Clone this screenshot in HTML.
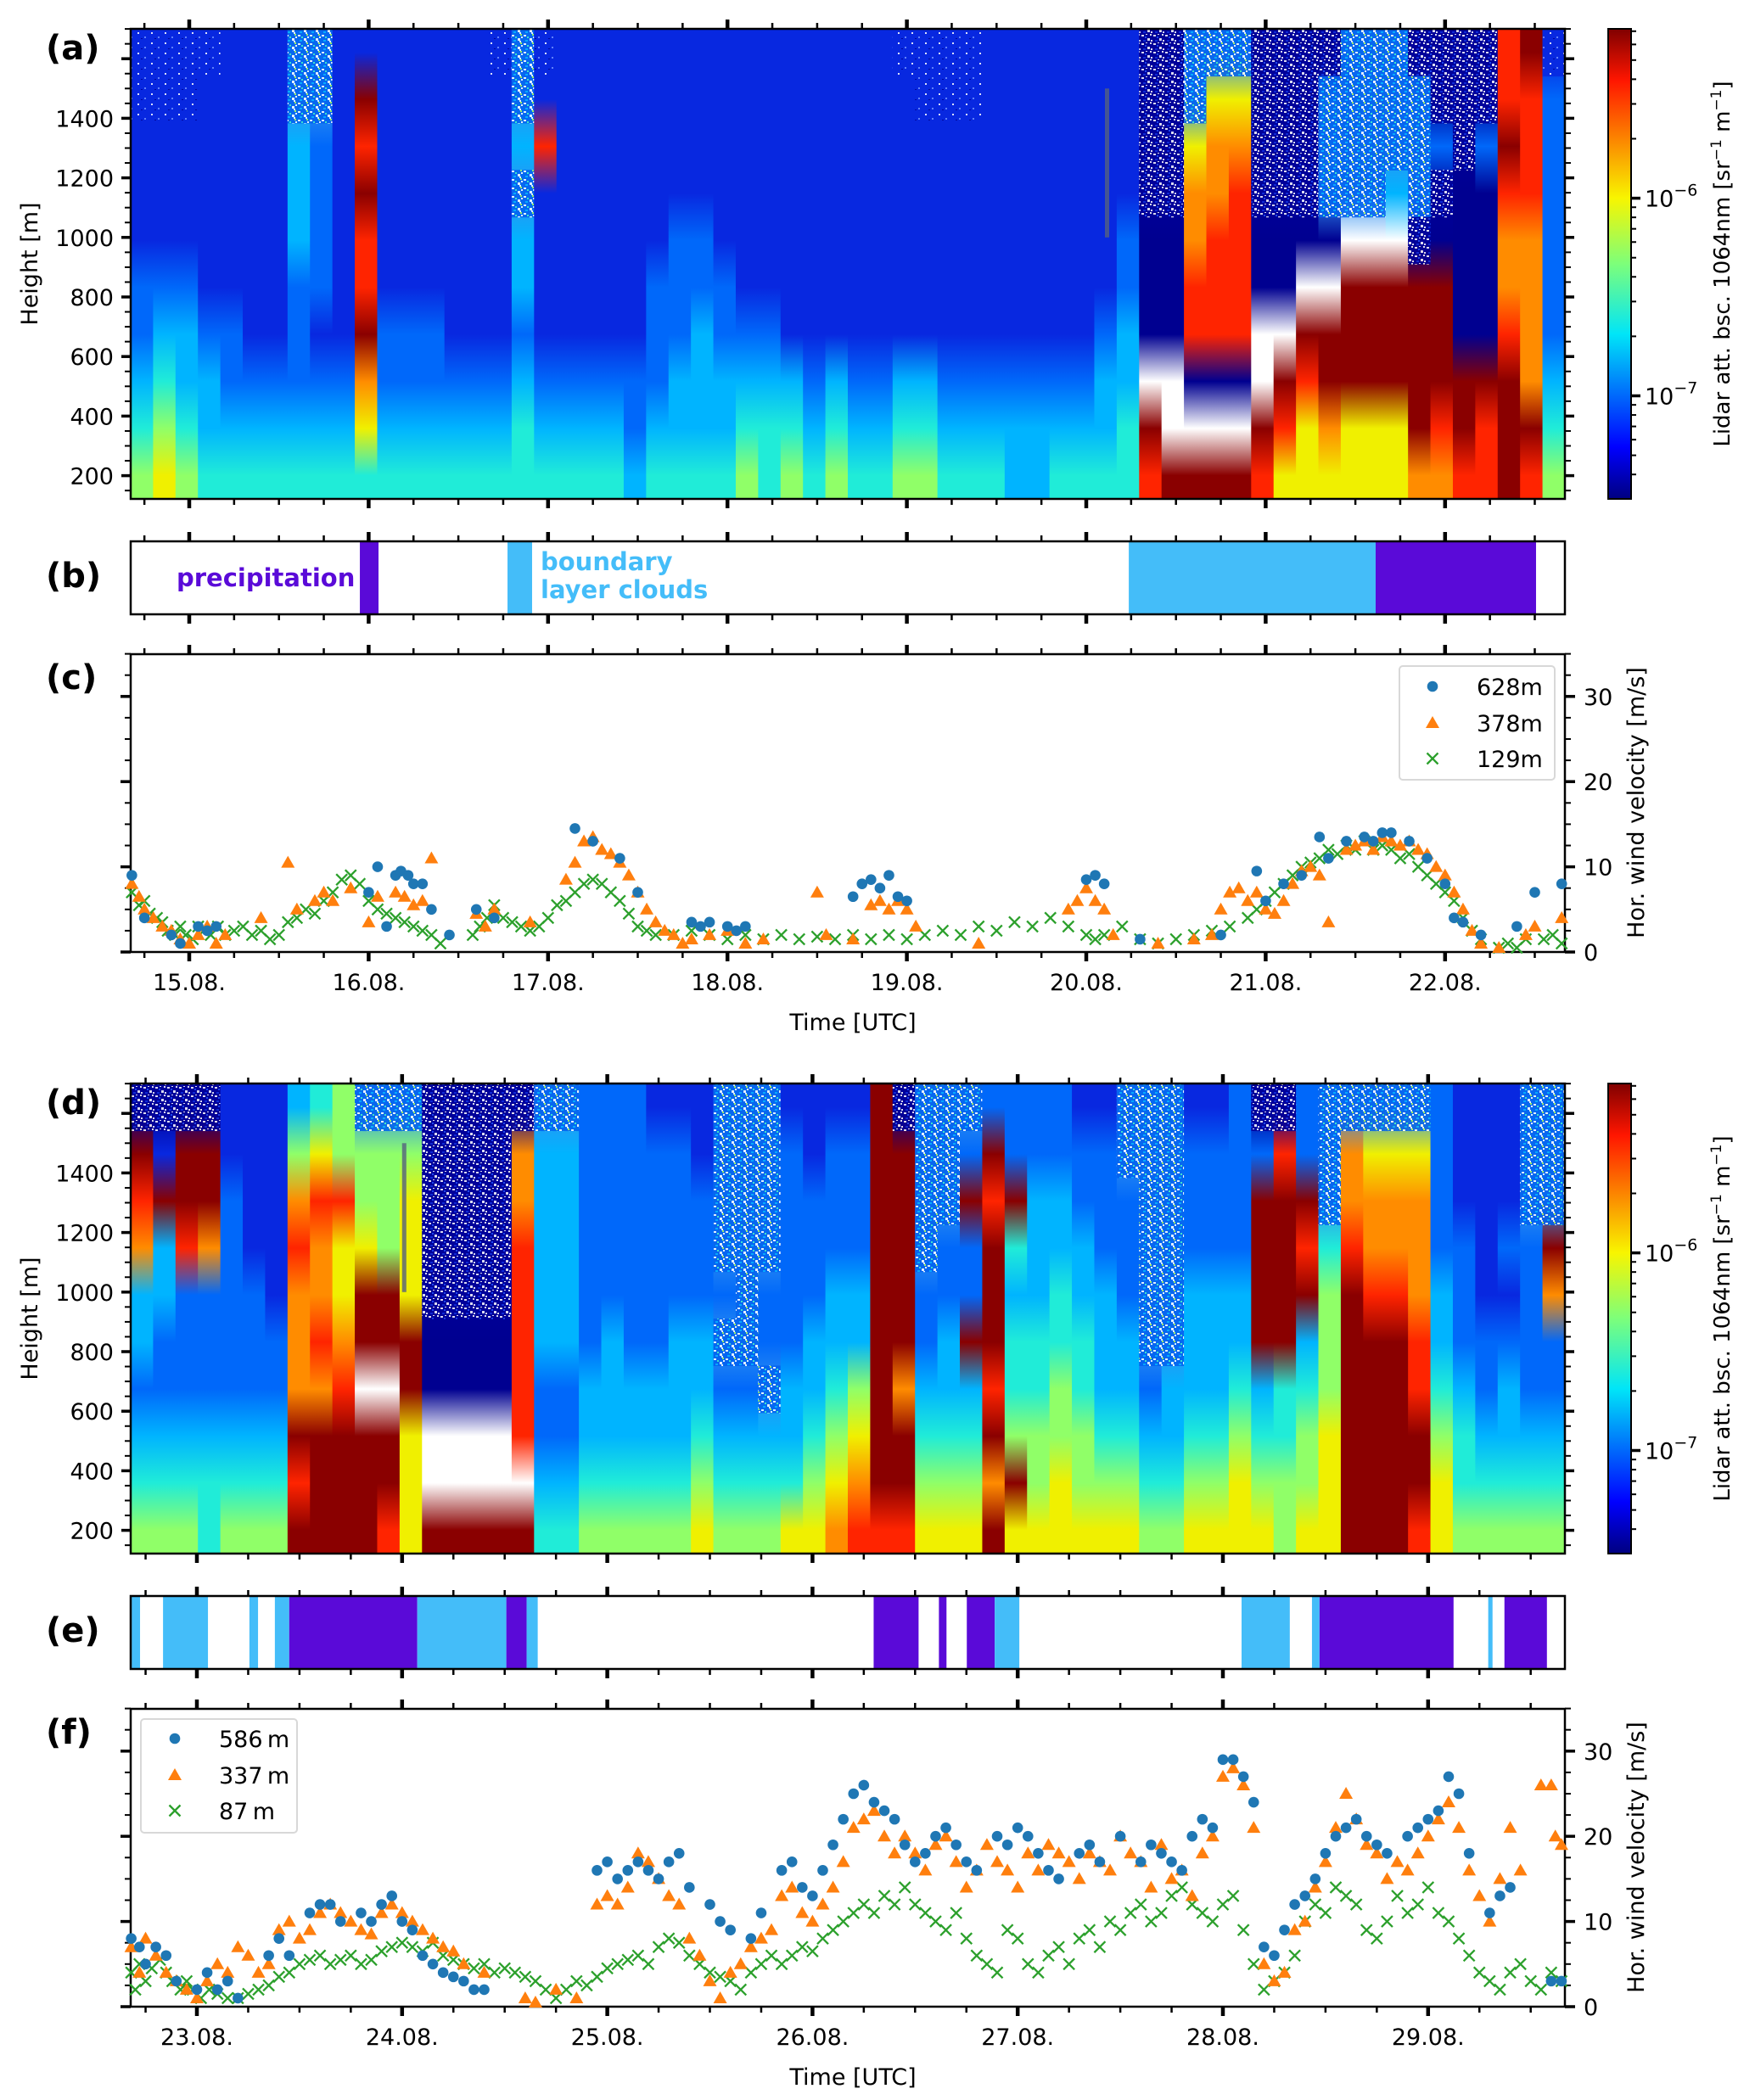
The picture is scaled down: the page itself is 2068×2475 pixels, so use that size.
<!DOCTYPE html>
<html><head><meta charset="utf-8">
<style>
html,body{margin:0;padding:0;background:#fff;}
svg{display:block;font-family:"DejaVu Sans","Liberation Sans",sans-serif;}
</style></head>
<body>
<svg id="fig" xmlns="http://www.w3.org/2000/svg" width="2068" height="2475" viewBox="0 0 2068 2475">
<defs id="defs">
<pattern id="pn" width="14" height="10" patternUnits="userSpaceOnUse">
<rect width="14" height="10" fill="#00009a"/>
<rect x="1" y="1" width="3" height="2" fill="#fff"/><rect x="8" y="5" width="3" height="3" fill="#fff"/>
<rect x="5" y="3" width="2" height="2" fill="#2050ff"/><rect x="11" y="0" width="2" height="2" fill="#fff"/>
<rect x="3" y="7" width="3" height="2" fill="#1030e0"/><rect x="12" y="7" width="2" height="2" fill="#fff"/>
<rect x="6" y="0" width="2" height="1" fill="#fff"/>
</pattern>
<pattern id="pm" width="14" height="10" patternUnits="userSpaceOnUse">
<rect width="14" height="10" fill="#0060f0"/>
<rect x="1" y="1" width="3" height="2" fill="#fff"/><rect x="8" y="5" width="3" height="3" fill="#fff"/>
<rect x="5" y="3" width="2" height="2" fill="#40f0c0"/><rect x="11" y="0" width="2" height="2" fill="#b0ff50"/>
<rect x="3" y="7" width="3" height="2" fill="#00b0ff"/><rect x="10" y="8" width="2" height="2" fill="#fff"/>
<rect x="12" y="3" width="2" height="2" fill="#fff"/>
</pattern>
<pattern id="pb" width="16" height="12" patternUnits="userSpaceOnUse">
<rect width="16" height="12" fill="#0828e0"/>
<rect x="2" y="2" width="2" height="2" fill="#fff"/><rect x="10" y="7" width="2" height="2" fill="#7090ff"/>
<rect x="6" y="9" width="2" height="1" fill="#000090"/>
</pattern>
<linearGradient id="jet" x1="0" y1="1" x2="0" y2="0">
<stop offset="0" stop-color="#000080"/><stop offset="0.11" stop-color="#0000ff"/>
<stop offset="0.35" stop-color="#00e5f8"/><stop offset="0.5" stop-color="#7dff7a"/>
<stop offset="0.64" stop-color="#f8f500"/><stop offset="0.89" stop-color="#ff1600"/>
<stop offset="1" stop-color="#800000"/>
</linearGradient>
</defs>
<g id="root"></g>
</svg>
<script>
// ---------- DATA ----------
const heatColsA = ["bb22233456","bb22234567","bb22234456","b222223445","2222223345","2222222345","2222222345","mm44433345","mm33332345","2222222345",
"2R9R99R875","2222223345","2222223345","2222223345","2222222345","2222222345","b222222345","mm4m443455","b292222345","2222222345",
"2222222345","2222222345","2222222334","2222233345","2222333445","2222334445","2222233445","2222223456","2222223455","2222222456",
"2222222345","2222222456","2222222345","2222222345","b222222456","bb22222456","bb22222345","bb22222345","2222222345","2222222344",
"2222222344","2222222345","2222222345","2222223445","2222334455","nnnn000WR9","nnnn000WWR","mm788990WR","m7889990WR","m7899990WR",
"nnnn00WWR9","nnnn00WR97","nnnn0WR977","nmmm0WRR87","mmmmWRRR77","mmmmWRRR77","mmm4WRRR77","nmmmnRRRR8","nn3n0RRR98","nnn0000RR9",
"nn30000R99","99R9889RRR","R9998888R9","b333333456"];
const heatColsD = ["nR98443456","n2R4433456","nRR9333456","nRR8333455","2233333456","2222333456","2222233456","4689888R9R","5798898RRR","6697789RRR",
"m667RRWRRR","m666RRWRR9","m6777RR777","nnnnn00WWR","nnnnn00WWR","nnnnn00WWR","nnnnn00WWR","n8899999WR","m444443345","m444443345",
"3333334456","3333344456","3333334456","2333334456","2333344456","2233344567","mmmm3m3456","mmmmmm3456","mmmm33m456","2333334457",
"2233344567","2333445678","2333446789","RRRRRRRRR9","nRRRRR8RR9","mmmm334567","mmm3344567","m3R33R4567","3R9RRR9R8R","33R54556R7",
"3344455667","3344556677","2334455667","2333444567","mm33344567","mmmmmm3456","mmmmmm4456","2333444567","2333444567","3333445677",
"n3RRRR4567","n9RRRR5566","33R9R45667","mmm5666777","m889RRRRRR","m7889RRRRR","m7889RRRRR","m788899RR9","3333445677","2223334556",
"2222233456","2223234456","mmm3333456","mmmR833456"];
const catB = [[0.951,1.055,"p"],[1.774,1.911,"c"],[5.237,6.613,"c"],[6.613,7.507,"p"]];
const catE = [[-0.318,-0.277,"c"],[-0.165,0.054,"c"],[0.256,0.298,"c"],[0.380,0.450,"c"],[0.450,1.074,"p"],[1.074,1.508,"c"],[1.508,1.607,"p"],[1.607,1.661,"c"],
[3.298,3.517,"p"],[3.616,3.653,"p"],[3.752,3.888,"p"],[3.888,4.008,"c"],[5.091,5.326,"c"],[5.434,5.471,"c"],[5.471,6.124,"p"],[6.293,6.314,"c"],[6.372,6.579,"p"]];
const daysUpper = ["15.08.","16.08.","17.08.","18.08.","19.08.","20.08.","21.08.","22.08."];
const daysLower = ["23.08.","24.08.","25.08.","26.08.","27.08.","28.08.","29.08."];
const heightTicks = [200,400,600,800,1000,1200,1400];
const windTicks = [0,10,20,30];
const cbTicks = [-6,-7];
const windC628 = [[-0.32,9],[-0.25,4],[-0.1,2],[-0.05,1],[0.05,3],[0.1,2.5],[0.15,3],[1.0,7],[1.05,10],[1.1,3],[1.15,9],[1.18,9.5],[1.22,9],[1.25,8],[1.3,8],[1.35,5],[1.45,2],[1.6,5],[1.7,4],[2.15,14.5],[2.25,13],[2.4,11],[2.5,7],[2.8,3.5],[2.85,3],[2.9,3.5],[3.0,3],[3.05,2.5],[3.1,3],[3.7,6.5],[3.75,8],[3.8,8.5],[3.85,7.5],[3.9,9],[3.95,6.5],[4.0,6],[5.0,8.5],[5.05,9],[5.1,8],[5.3,1.5],[5.75,2],[5.95,9.5],[6.0,6],[6.1,8],[6.2,9],[6.3,13.5],[6.35,11],[6.45,13],[6.55,13.5],[6.6,13],[6.65,14],[6.7,14],[6.8,13],[6.9,11],[7.0,8],[7.05,4],[7.1,3.5],[7.2,2],[7.4,3],[7.5,7],[7.65,8]];
const windC378 = [[-0.32,8],[-0.28,6.5],[-0.25,5],[-0.2,4],[-0.15,3],[-0.1,2.5],[-0.05,1.5],[0.0,1],[0.05,2],[0.1,3],[0.15,1],[0.2,2],[0.4,4],[0.55,10.5],[0.6,5],[0.7,6],[0.75,7],[0.8,6],[0.9,7.5],[1.0,3.5],[1.05,6.5],[1.15,7],[1.2,6.5],[1.25,5.5],[1.3,6],[1.35,11],[1.6,4.5],[1.65,3],[1.7,5],[1.9,3.5],[2.1,8.5],[2.15,10.5],[2.2,13],[2.25,13.5],[2.3,12],[2.35,11.5],[2.4,10.5],[2.45,9],[2.5,7],[2.55,5],[2.6,3.5],[2.65,2.5],[2.7,2],[2.75,1],[2.8,1.5],[2.9,2],[3.0,2.5],[3.1,1],[3.2,1.5],[3.5,7],[3.55,2],[3.7,1.5],[3.8,5.5],[3.85,6],[3.9,5],[3.95,6],[4.0,5],[4.05,3],[4.4,1],[4.9,5],[4.95,6],[5.0,7.5],[5.05,6],[5.1,5],[5.15,2],[5.4,1],[5.6,1.5],[5.7,2],[5.75,5],[5.8,7],[5.85,7.5],[5.9,6],[5.95,7],[6.0,5],[6.05,4.5],[6.1,6],[6.15,8],[6.2,9.5],[6.25,10],[6.3,9],[6.35,3.5],[6.45,12],[6.5,12.5],[6.55,13],[6.6,12],[6.65,13.5],[6.7,13],[6.75,12.5],[6.8,13],[6.85,12],[6.9,11.5],[6.95,10],[7.0,9],[7.05,7],[7.1,5],[7.15,2.5],[7.2,1],[7.3,0.5],[7.45,2],[7.5,3],[7.65,4]];
const windC129 = [[-0.32,7],[-0.28,5.5],[-0.25,6],[-0.22,4.5],[-0.18,4],[-0.15,3.5],[-0.12,2.5],[-0.08,2],[-0.05,3],[-0.02,2],[0.02,1.5],[0.05,3],[0.08,2.5],[0.12,2],[0.16,3],[0.2,2],[0.25,2.5],[0.3,3],[0.35,2],[0.4,2.5],[0.45,1.5],[0.5,2],[0.55,3.5],[0.6,4],[0.65,5],[0.7,4.5],[0.75,6],[0.8,7],[0.85,8.5],[0.9,9],[0.95,8],[1.0,6],[1.05,5],[1.1,4.5],[1.15,4],[1.2,3.5],[1.25,3],[1.3,2.5],[1.35,2],[1.4,1],[1.58,2],[1.62,3],[1.66,4],[1.7,5.5],[1.75,4],[1.8,3.5],[1.85,3],[1.9,2.5],[1.95,3],[2.0,4],[2.05,5.5],[2.1,6],[2.15,7],[2.2,8],[2.25,8.5],[2.3,8],[2.35,7],[2.4,6],[2.45,4.5],[2.5,3],[2.55,2.5],[2.6,2],[2.7,2],[2.8,2.5],[2.9,2],[3.0,1.5],[3.1,2],[3.2,1.5],[3.3,2],[3.4,1.5],[3.5,1.8],[3.6,1.5],[3.7,2],[3.8,1.5],[3.9,2],[4.0,1.5],[4.1,2],[4.2,2.5],[4.3,2],[4.4,3],[4.5,2.5],[4.6,3.5],[4.7,3],[4.8,4],[4.9,3],[5.0,2],[5.05,1.5],[5.1,2],[5.2,3],[5.3,1.5],[5.4,1],[5.5,1.5],[5.6,2],[5.7,2.5],[5.8,3],[5.9,4],[5.95,5],[6.0,6],[6.05,7],[6.1,8],[6.15,9],[6.2,10],[6.25,10.5],[6.3,11],[6.35,12],[6.4,11.5],[6.45,12.5],[6.5,12],[6.55,13],[6.6,12],[6.65,12.5],[6.7,12],[6.75,11],[6.8,11.5],[6.85,10],[6.9,9],[6.95,8],[7.0,7],[7.05,6],[7.1,4],[7.15,2.5],[7.2,1.5],[7.3,0.5],[7.35,1],[7.4,0.5],[7.45,1.5],[7.55,1.5],[7.6,2],[7.65,1]];
const windF586 = [[-0.32,8],[-0.28,7],[-0.25,5],[-0.2,7],[-0.15,6],[-0.1,3],[0.0,2],[0.05,4],[0.1,2],[0.15,3],[0.2,1],[0.35,6],[0.4,8],[0.45,6],[0.55,11],[0.6,12],[0.65,12],[0.7,10],[0.8,11],[0.85,10],[0.9,12],[0.95,13],[1.0,10],[1.05,9],[1.1,6],[1.15,5],[1.2,4],[1.25,3.5],[1.3,3],[1.35,2],[1.4,2],[1.95,16],[2.0,17],[2.05,15],[2.1,16],[2.15,17],[2.2,16],[2.25,15],[2.3,17],[2.35,18],[2.4,14],[2.5,12],[2.55,10],[2.6,9],[2.7,8],[2.75,11],[2.85,16],[2.9,17],[2.95,14],[3.0,13],[3.05,16],[3.1,19],[3.15,22],[3.2,25],[3.25,26],[3.3,24],[3.35,23],[3.4,22],[3.45,19],[3.5,17],[3.55,18],[3.6,20],[3.65,21],[3.7,19],[3.75,17],[3.8,16],[3.9,20],[3.95,19],[4.0,21],[4.05,20],[4.1,18],[4.15,16],[4.2,15],[4.3,18],[4.35,19],[4.4,17],[4.5,20],[4.6,17],[4.65,19],[4.7,18],[4.75,17],[4.8,16],[4.85,20],[4.9,22],[4.95,21],[5.0,29],[5.05,29],[5.1,27],[5.15,24],[5.2,7],[5.25,6],[5.3,9],[5.35,12],[5.4,13],[5.45,15],[5.5,18],[5.55,20],[5.6,21],[5.65,22],[5.7,20],[5.75,19],[5.8,18],[5.9,20],[5.95,21],[6.0,22],[6.05,23],[6.1,27],[6.15,25],[6.2,18],[6.3,11],[6.35,13],[6.4,14],[6.6,3],[6.65,3]];
const windF337 = [[-0.32,7],[-0.28,4],[-0.25,8],[-0.2,6],[-0.15,4],[-0.1,3],[-0.05,2],[0.0,1],[0.05,3],[0.1,5],[0.15,4],[0.2,7],[0.25,6],[0.3,4],[0.35,5],[0.4,9],[0.45,10],[0.5,8],[0.55,9],[0.6,11],[0.65,12],[0.7,11],[0.75,10],[0.8,9],[0.85,8.5],[0.9,11],[0.95,12],[1.0,11],[1.05,10],[1.1,9],[1.15,8],[1.2,7],[1.25,6.5],[1.3,5],[1.4,4],[1.6,1],[1.65,0.5],[1.75,2],[1.85,1],[1.95,12],[2.0,13],[2.05,12],[2.1,14],[2.15,18],[2.2,17],[2.25,15],[2.3,13],[2.35,12],[2.4,8],[2.45,6],[2.5,3],[2.55,1],[2.6,4],[2.65,5],[2.7,7],[2.75,8],[2.8,9],[2.85,13],[2.9,14],[2.95,11],[3.0,10],[3.05,12],[3.1,14],[3.15,17],[3.2,21],[3.25,22],[3.3,23],[3.35,20],[3.4,18],[3.45,20],[3.5,18],[3.55,16],[3.6,19],[3.65,20],[3.7,17],[3.75,14],[3.8,16],[3.85,19],[3.9,17],[3.95,16],[4.0,14],[4.05,18],[4.1,16],[4.15,19],[4.2,18],[4.25,17],[4.3,15],[4.35,18],[4.4,17],[4.45,16],[4.5,20],[4.55,18],[4.6,17],[4.65,14],[4.7,19],[4.75,15],[4.8,16],[4.85,13],[4.9,18],[4.95,20],[5.0,27],[5.05,28],[5.1,26],[5.15,21],[5.2,5],[5.25,3],[5.3,4],[5.35,9],[5.4,10],[5.45,14],[5.5,17],[5.55,21],[5.6,25],[5.65,22],[5.7,19],[5.75,18],[5.8,15],[5.85,17],[5.9,16],[5.95,18],[6.0,20],[6.05,22],[6.1,24],[6.15,21],[6.2,16],[6.25,13],[6.3,10],[6.35,15],[6.4,21],[6.45,16],[6.55,26],[6.6,26],[6.62,20],[6.65,19]];
const windF87 = [[-0.32,4],[-0.3,2],[-0.28,5],[-0.25,3],[-0.22,4.5],[-0.18,5.5],[-0.15,4],[-0.12,3],[-0.08,2],[-0.05,3],[-0.02,2],[0.02,1],[0.06,2],[0.1,1.5],[0.15,1],[0.2,1],[0.25,1.5],[0.3,2],[0.35,2.5],[0.4,3.5],[0.45,4],[0.5,5],[0.55,5.5],[0.6,6],[0.65,5],[0.7,5.5],[0.75,6],[0.8,5],[0.85,5.5],[0.9,6.5],[0.95,7],[1.0,7.5],[1.05,7],[1.1,6.5],[1.15,7.5],[1.2,6],[1.25,5.5],[1.3,5],[1.35,4.5],[1.4,5],[1.45,4],[1.5,4.5],[1.55,4],[1.6,3.5],[1.65,3],[1.7,2],[1.75,1],[1.8,2],[1.85,3],[1.9,2.5],[1.95,3.5],[2.0,4.5],[2.05,5],[2.1,5.5],[2.15,6],[2.2,5],[2.25,7],[2.3,8],[2.35,7.5],[2.4,6],[2.45,5],[2.5,4],[2.55,3.5],[2.6,3],[2.65,2],[2.7,4],[2.75,5],[2.8,6],[2.85,5],[2.9,6],[2.95,7],[3.0,6.5],[3.05,8],[3.1,9],[3.15,10],[3.2,11],[3.25,12],[3.3,11],[3.35,13],[3.4,12],[3.45,14],[3.5,12],[3.55,11],[3.6,10],[3.65,9],[3.7,11],[3.75,8],[3.8,6],[3.85,5],[3.9,4],[3.95,9],[4.0,8],[4.05,5],[4.1,4],[4.15,6],[4.2,7],[4.25,5],[4.3,8],[4.35,9],[4.4,7],[4.45,10],[4.5,9],[4.55,11],[4.6,12],[4.65,10],[4.7,11],[4.75,13],[4.8,14],[4.85,12],[4.9,11],[4.95,10],[5.0,12],[5.05,13],[5.1,9],[5.15,5],[5.2,2],[5.25,3],[5.3,4],[5.35,6],[5.4,10],[5.45,12],[5.5,11],[5.55,14],[5.6,13],[5.65,12],[5.7,9],[5.75,8],[5.8,10],[5.85,13],[5.9,11],[5.95,12],[6.0,14],[6.05,11],[6.1,10],[6.15,8],[6.2,6],[6.25,4],[6.3,3],[6.35,2],[6.4,4],[6.45,5],[6.5,3],[6.55,2],[6.6,4],[6.65,3]];

// ---------- LAYOUT / SCALES ----------
const NS = "http://www.w3.org/2000/svg";
const root = document.getElementById("root");
const defs = document.getElementById("defs");
const XL = 154, XR = 1844;
const OFF = [0, 1243];
const HT = 34, HB = 588, ST = 638, SB = 724, WT = 771, WB = 1122;
const xU = d => 223 + d * 211.4;
const xLo = d => 232 + d * 241.8;
const XS = [xU, xLo];
const D0 = [(XL - 223) / 211.4, (XL - 232) / 241.8];
const D1 = [(XR - 223) / 211.4, (XR - 232) / 241.8];
const yH = h => 560.6 - (h - 200) * 0.351;
const yW = v => 1122 - v * 10.04;
const yCB = e => 233.6 - (e + 6) * 232.9;
const LEV = {"0":"#000090","1":"#0000d8","2":"#0828e0","3":"#0068fa","4":"#00b4ff","5":"#20ecd8","6":"#90ff68","7":"#f0f000","8":"#ff8c00","9":"#ff2400","R":"#8a0000","W":"#ffffff","n":"#00009a","m":"#3090f0","b":"#0828e0"};
const PAT = {"n":"url(#pn)","m":"url(#pm)","b":"url(#pb)"};
const CAT = {p:"#5a0ad8", c:"#44bdf9"};

function el(tag, a, parent) {
  const e = document.createElementNS(NS, tag);
  for (const k in a) e.setAttribute(k, a[k]);
  (parent || root).appendChild(e);
  return e;
}
function txt(s, a, parent) { const t = el("text", a, parent); t.textContent = s; return t; }

function heat(cols, p) {
  const g = el("g", {});
  
  
  const n = cols.length, nr = cols[0].length, o = OFF[p];
  const span = D1[p] - D0[p];
  const dh = (1700 - 122) / nr;
  const yTop = yH(1700) + o, yBot = yH(122) + o;
  for (let i = 0; i < n; i++) {
    const x0 = XS[p](D0[p] + i * span / n), x1 = XS[p](D0[p] + (i + 1) * span / n);
    const gid = "hg" + p + "_" + i;
    const lg = el("linearGradient", {id: gid, x1: 0, y1: 0, x2: 0, y2: 1}, defs);
    for (let r = 0; r < nr; r++) {
      el("stop", {offset: ((r + 0.5) / nr).toFixed(3), "stop-color": LEV[cols[i][r]]}, lg);
    }
    const c = el("rect", {x: x0.toFixed(2), y: yTop.toFixed(2), width: (x1 - x0 + 0.6).toFixed(2), height: (yBot - yTop).toFixed(2), fill: "url(#" + gid + ")"}, g);
    
    
    for (let r = 0; r < nr; r++) {
      const ch = cols[i][r];
      if (!PAT[ch]) continue;
      const y0 = yH(1700 - r * dh) + o, y1 = yH(1700 - (r + 1) * dh) + o;
      const q = el("rect", {x: x0.toFixed(2), y: y0.toFixed(2), width: (x1 - x0 + 0.6).toFixed(2), height: (y1 - y0 + 0.6).toFixed(2), fill: PAT[ch], opacity: 0.85}, g);
      
      
    }
  }
  const gb = el("rect", {x: (p ? XS[1](1.0) : 1302), y: yH(1500) + o, width: 5, height: yH(1000) - yH(1500), fill: "#556080", opacity: 0.8}, g);
  
  
}

function frame(y0, y1, name) {
  const r = el("rect", {x: XL, y: y0, width: XR - XL, height: y1 - y0, fill: "none", stroke: "#000", "stroke-width": 2.5});
  
  
}

function xTicks(p, y0, y1, top, bottom) {
  const g = el("g", {});
  
  
  for (let q = Math.ceil(D0[p] * 4); q <= Math.floor(D1[p] * 4); q++) {
    const x = XS[p](q / 4), major = q % 4 === 0, L = major ? 11 : 7, w = major ? 4.5 : 2.5;
    if (top) el("line", {x1: x, x2: x, y1: y0, y2: y0 - L, stroke: "#000", "stroke-width": w}, g);
    if (bottom) el("line", {x1: x, x2: x, y1: y1, y2: y1 + L, stroke: "#000", "stroke-width": w}, g);
  }
}

function heatAxes(p) {
  const o = OFF[p];
  const g = el("g", {});
  
  
  for (let h = 150; h <= 1700; h += 50) {
    const y = yH(h) + o, major = h % 200 === 0;
    if (y < HT + o - 1 || y > HB + o + 1) continue;
    const L = major ? 11 : 7, w = major ? 3.5 : 2;
    el("line", {x1: XL, x2: XL - L, y1: y, y2: y, stroke: "#000", "stroke-width": w}, g);
    el("line", {x1: XR, x2: XR + L, y1: y, y2: y, stroke: "#000", "stroke-width": w}, g);
  }
  heightTicks.forEach(h => {
    const t = txt(String(h), {x: 134, y: yH(h) + o + 10, "font-size": 27, "text-anchor": "end"});
    
    
  });
  const yt = txt("Height [m]", {x: 0, y: 0, "font-size": 27, "text-anchor": "middle", transform: `translate(44,${311 + o}) rotate(-90)`});
  
  
  const cb = el("rect", {x: 1895, y: HT + o, width: 27, height: HB - HT, fill: "url(#jet)", stroke: "#000", "stroke-width": 2});
  
  
  for (let e = -8; e <= -5; e++) for (let m = 1; m <= 9; m++) {
    const y = yCB(e + Math.log10(m)) + o;
    if (y < HT + o || y > HB + o) continue;
    el("line", {x1: 1922, x2: 1922 + (m === 1 ? 11 : 6), y1: y, y2: y, stroke: "#000", "stroke-width": m === 1 ? 3.5 : 2});
  }
  cbTicks.forEach(e => {
    const t = el("text", {x: 1938, y: yCB(e) + o + 10, "font-size": 27});
    t.textContent = "10";
    const s = el("tspan", {dy: -13, "font-size": 19}, t);
    s.textContent = "\u2212" + Math.abs(e);
    
    
  });
  const ct = el("text", {x: 0, y: 0, "font-size": 26, "text-anchor": "middle", transform: `translate(2038,${311 + o}) rotate(-90)`});
  ct.innerHTML = 'Lidar att. bsc. 1064nm [sr<tspan dy="-10" font-size="17">\u22121</tspan><tspan dy="10"> m</tspan><tspan dy="-10" font-size="17">\u22121</tspan><tspan dy="10">]</tspan>';
  
  
}

function strip(cats, p) {
  const o = OFF[p];
  cats.forEach(c => {
    const x0 = XS[p](c[0]), x1 = XS[p](c[1]);
    const r = el("rect", {x: x0, y: ST + o, width: x1 - x0, height: SB - ST, fill: CAT[c[2]]});
    
    
  });
}

function windAxes(p) {
  const o = OFF[p];
  const g = el("g", {});
  
  
  for (let v = 0; v <= 35; v += 2.5) {
    const y = yW(v) + o, major = v % 10 === 0, L = major ? 12 : 7, w = major ? 3.5 : 2;
    el("line", {x1: XL, x2: XL - L, y1: y, y2: y, stroke: "#000", "stroke-width": w}, g);
    el("line", {x1: XR, x2: XR + L, y1: y, y2: y, stroke: "#000", "stroke-width": w}, g);
  }
  windTicks.forEach(v => {
    const t = txt(String(v), {x: 1866, y: yW(v) + o + 10, "font-size": 27});
    
    
  });
  const yt = txt("Hor. wind velocity [m/s]", {x: 0, y: 0, "font-size": 27, "text-anchor": "middle", transform: `translate(1937,${946 + o}) rotate(-90)`});
  
  
  const days = p ? daysLower : daysUpper;
  days.forEach((d, i) => {
    const t = txt(d, {x: XS[p](i), y: 1167 + o, "font-size": 27, "text-anchor": "middle"});
    
    
  });
  const xt = txt("Time [UTC]", {x: 1005, y: 1214 + o, "font-size": 27, "text-anchor": "middle"});
  
  
}

function marker(kind, x, y, parent) {
  let m;
  if (kind === 0) m = el("circle", {cx: x, cy: y, r: 6.3, fill: "#1f77b4"}, parent);
  else if (kind === 1) m = el("path", {d: `M${x} ${y - 8}L${x + 8} ${y + 6}L${x - 8} ${y + 6}Z`, fill: "#ff7f0e"}, parent);
  else m = el("path", {d: `M${x - 6.5} ${y - 6.5}L${x + 6.5} ${y + 6.5}M${x - 6.5} ${y + 6.5}L${x + 6.5} ${y - 6.5}`, stroke: "#2ca02c", "stroke-width": 2.3, fill: "none"}, parent);
  return m;
}
function series(data, kind, p, name) {
  const g = el("g", {});
  
  
  data.forEach(d => {
    const m = marker(kind, XS[p](d[0]), yW(d[1]) + OFF[p], g);
    
    
  });
}
function legend(x0, y0, w, h, labels, mx, tx, ys) {
  const g = el("g", {});
  
  
  el("rect", {x: x0, y: y0, width: w, height: h, rx: 4, fill: "#fff", "fill-opacity": 0.8, stroke: "#d8d8d8", "stroke-width": 2}, g);
  labels.forEach((l, i) => {
    const m = marker(i, mx, ys[i], g);
    
    
    const t = txt(l, {x: tx, y: ys[i] + 10, "font-size": 27}, g);
    
    
  });
}
function panelLabel(s, y) {
  const t = txt(s, {x: 54, y: y, "font-size": 40, "font-weight": "bold"});
  
  
}

// ---------- BUILD ----------
[0, 1].forEach(p => {
  const o = OFF[p];
  heat(p ? heatColsD : heatColsA, p);
  frame(HT + o, HB + o, p ? 'heatmap-frame-d' : 'heatmap-frame-a');
  xTicks(p, HT + o, HB + o, true, true);
  heatAxes(p);
  strip(p ? catE : catB, p);
  frame(ST + o, SB + o, p ? 'category-strip-e' : 'category-strip-b');
  xTicks(p, ST + o, SB + o, true, true);
  frame(WT + o, WB + o, p ? 'wind-panel-f' : 'wind-panel-c');
  xTicks(p, WT + o, WB + o, true, true);
  windAxes(p);
});
series(windC129, 2, 0, 'series-129m');
series(windC378, 1, 0, 'series-378m');
series(windC628, 0, 0, 'series-628m');
series(windF87, 2, 1, 'series-87m');
series(windF337, 1, 1, 'series-337m');
series(windF586, 0, 1, 'series-586m');
legend(1649, 785, 183, 134, ["628m", "378m", "129m"], 1688, 1740, [809, 852, 894]);
legend(166, 2026, 184, 134, ["586\u2009m", "337\u2009m", "87\u2009m"], 206, 258, [2049, 2092, 2134]);
panelLabel("(a)", 70);
panelLabel("(b)", 692);
panelLabel("(c)", 812);
panelLabel("(d)", 1313);
panelLabel("(e)", 1935);
panelLabel("(f)", 2055);
const pt = txt("precipitation", {x: 208, y: 691, "font-size": 29, "font-weight": "bold", fill: "#5a0ad8"});


const bt1 = txt("boundary", {x: 637, y: 672, "font-size": 29, "font-weight": "bold", fill: "#44bdf9"});


const bt2 = txt("layer clouds", {x: 637, y: 705, "font-size": 29, "font-weight": "bold", fill: "#44bdf9"});


</script>
</body></html>
